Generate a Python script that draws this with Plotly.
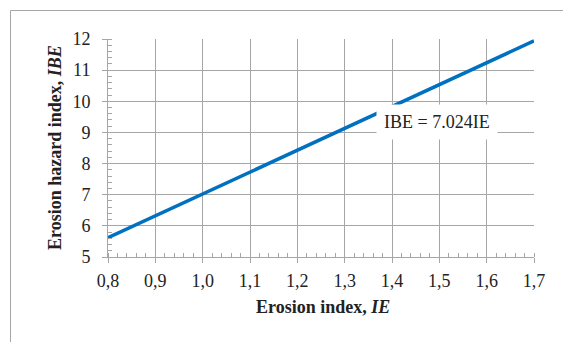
import plotly.graph_objects as go

# Data
ie = [0.8, 1.7]
ibe = [5.62, 11.94]
eq_label = "IBE = 7.024IE"
eq_pos = (1.495, 9.32)
x_title = "<b>Erosion index, <i>IE</i></b>"
y_title = "<b>Erosion hazard index, <i>IBE</i></b>"

OFF = 8  # default page body margin
W, H = 571 - OFF, 342 - OFF
ml, mt = 108 - OFF, 39 - OFF
mr = 571 - 534
mb = 342 - 257
pw, ph = W - ml - mr, H - mt - mb

def px_to_paper_x(px):
    return (px - OFF - ml) / pw

def px_to_paper_y(py):
    return (H - mb - (py - OFF)) / ph

grid_c = "#a6a6a6"
font_f = "Liberation Serif, Times New Roman, serif"
txt_c = "#222222"

fig = go.Figure()
fig.add_trace(go.Scatter(x=ie, y=ibe, mode="lines",
                         line=dict(color="#0070C0", width=3.5),
                         showlegend=False, hoverinfo="skip"))

axis_common = dict(showgrid=True, gridcolor=grid_c, gridwidth=1,
                   showline=True, linecolor=grid_c, linewidth=1,
                   ticks="outside", ticklen=5, tickcolor=grid_c,
                   zeroline=False, fixedrange=True, automargin=False,
                   tickfont=dict(family=font_f, size=18, color=txt_c))

fig.update_layout(
    width=W, height=H,
    margin=dict(l=ml, r=mr, t=mt, b=mb, autoexpand=False),
    paper_bgcolor="white", plot_bgcolor="white",
    separators=", ",
    font=dict(family=font_f, size=18, color=txt_c),
    xaxis=dict(range=[0.8, 1.7], dtick=0.1, tick0=0.8, tickformat=".1f",
               minor=dict(ticks="inside", dtick=0.02, ticklen=4, tickcolor=grid_c, showgrid=False),
               ticklabelstandoff=2, **axis_common),
    yaxis=dict(range=[5, 12], dtick=1, tick0=5,
               minor=dict(ticks="inside", dtick=0.2, ticklen=4, tickcolor=grid_c, showgrid=False),
               ticklabelstandoff=8, **axis_common),
)

# Axis titles
fig.add_annotation(x=px_to_paper_x(323), y=px_to_paper_y(307), xref="paper", yref="paper",
                   text=x_title, showarrow=False, xanchor="center", yanchor="middle",
                   font=dict(family=font_f, size=18, color=txt_c))
fig.add_annotation(x=px_to_paper_x(55), y=px_to_paper_y(148), xref="paper", yref="paper",
                   text=y_title, showarrow=False, xanchor="center", yanchor="middle",
                   textangle=-90, font=dict(family=font_f, size=18, color=txt_c))

# Equation label with white box
fig.add_annotation(x=eq_pos[0], y=eq_pos[1], xref="x", yref="y",
                   text=eq_label, showarrow=False,
                   font=dict(family=font_f, size=18, color=txt_c),
                   bgcolor="white", borderpad=7)

# Outer frame (top and left edges)
fx0, fy0 = px_to_paper_x(10.5), px_to_paper_y(10.5)
fig.add_shape(type="line", xref="paper", yref="paper",
              x0=fx0, y0=fy0, x1=px_to_paper_x(571), y1=fy0,
              line=dict(color="#a6a6a6", width=1))
fig.add_shape(type="line", xref="paper", yref="paper",
              x0=fx0, y0=fy0, x1=fx0, y1=px_to_paper_y(342),
              line=dict(color="#a6a6a6", width=1))

fig.write_html("out.html")
